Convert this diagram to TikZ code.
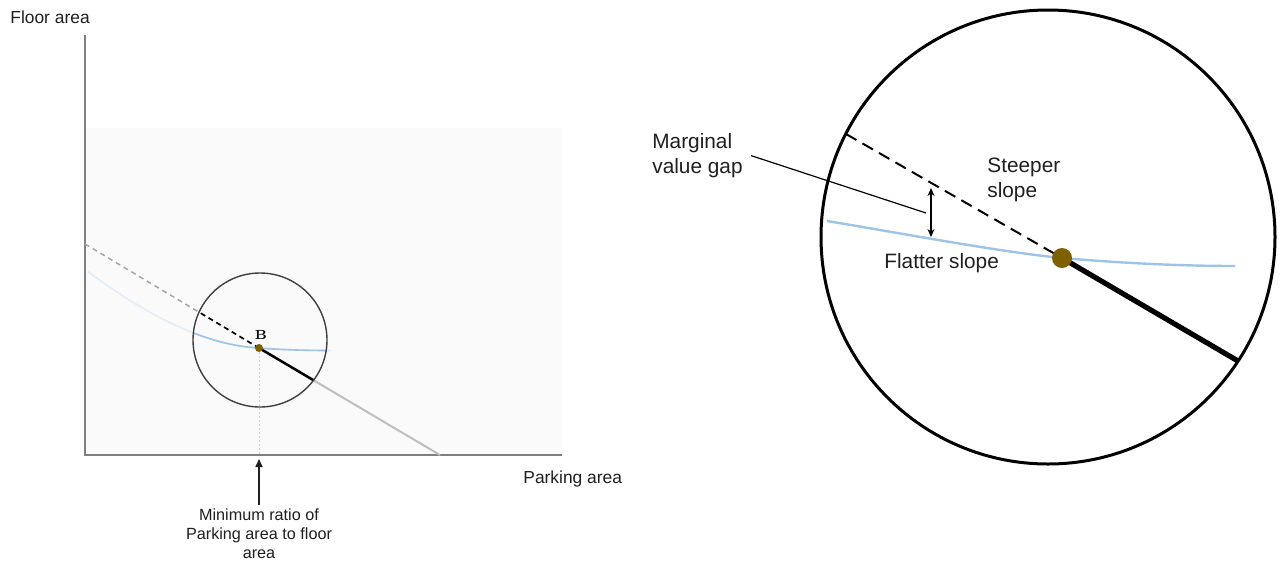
\documentclass[tikz,border=0pt]{standalone}
\usepackage{fontspec}
\setsansfont{Liberation Sans}
\renewcommand{\familydefault}{\sfdefault}
\usetikzlibrary{arrows.meta,positioning,calc}
\definecolor{axisgray}{HTML}{7F7F7F}
\definecolor{panelgray}{HTML}{FAFAFA}
\definecolor{linegray}{HTML}{BFBFBF}
\definecolor{dashgray}{HTML}{A6A6A6}
\definecolor{guidegray}{HTML}{D0D0D0}
\definecolor{ringgray}{HTML}{404040}
\definecolor{curveblue}{HTML}{9DC3E6}
\definecolor{curvefade}{HTML}{E3EDF8}
\definecolor{pointbrown}{HTML}{7F6000}
\definecolor{inkdark}{HTML}{1F1F1F}
\tikzset{
  axisline/.style={draw=axisgray, line width=1pt},
  % small picture (left)
  faintdash/.style={draw=dashgray, line width=0.75pt, dash pattern=on 2.5pt off 2pt},
  faintline/.style={draw=linegray, line width=1pt},
  inkdash/.style={draw=black, line width=0.8pt, dash pattern=on 2.5pt off 2pt},
  inkline/.style={draw=black, line width=1.25pt},
  fadecurve/.style={draw=curvefade, line width=0.8pt},
  bluecurve/.style={draw=curveblue, line width=0.8pt},
  guide/.style={draw=guidegray, line width=0.4pt, dash pattern=on 1pt off 1pt},
  smallring/.style={draw=ringgray, line width=0.7pt},
  pointer/.style={-{Triangle[length=4pt,width=3.5pt]}, line width=0.8pt, color=inkdark},
  axlbl/.style={font=\fontsize{8.7}{10.4}\selectfont, text=inkdark, inner sep=0pt},
  notelbl/.style={font=\fontsize{8.1}{9.6}\selectfont, text=inkdark, inner sep=0pt, align=center},
  % magnified picture (right)
  bigring/.style={draw=black, line width=1.5pt},
  bigdash/.style={draw=black, line width=1pt, dash pattern=on 6pt off 3.5pt},
  bigline/.style={draw=black, line width=2.6pt},
  bigcurve/.style={draw=curveblue, line width=1.2pt},
  gaparrow/.style={{Stealth[length=4pt,width=3.5pt]}-{Stealth[length=4pt,width=3.5pt]}, line width=0.8pt},
  leader/.style={draw=black, line width=0.6pt},
  biglbl/.style={font=\fontsize{10.4}{12.5}\selectfont, text=inkdark, inner ysep=0pt, inner xsep=0pt, align=left},
}
\newcommand{\smallcurve}{(88,271.7) .. controls (140,310) and (200,345) .. (259,348)
  .. controls (285,350) and (310,350.5) .. (331,350.5)}

\begin{document}
\begin{tikzpicture}[x=0.5pt, y=-0.5pt]
  \useasboundingbox (0,0) rectangle (1284,563);

  % ---- left: the plane with the budget line
  \fill[panelgray] (85,128) rectangle (562,455);
  \coordinate (O) at (85,455);
  \coordinate (Ytop) at (85,35);
  \coordinate (Xend) at (562,455);
  \coordinate (B) at (259,348);
  \coordinate (Lstart) at (85,244);
  \coordinate (Lend) at (440,455);
  \coordinate (Zc) at (260,340);
  \draw[axisline] (Ytop) -- (O) -- (Xend);

  \draw[faintdash] (Lstart) -- (B);
  \draw[faintline] (B) -- (Lend);
  \draw[fadecurve] \smallcurve;
  \begin{scope}
    \clip (Zc) circle (33.5pt);
    \draw[inkdash] (Lstart) -- (B);
    \draw[inkline] (B) -- (Lend);
    \draw[bluecurve] \smallcurve;
  \end{scope}
  \draw[smallring] (Zc) circle (33.5pt);
  \draw[guide] (B) -- (B |- O);
  \fill[pointbrown] (B) circle (2pt);
  \node[font=\rmfamily\bfseries\fontsize{6.6}{7}\selectfont, inner sep=0pt] (Blbl) at (261,335) {B};

  \node[axlbl, anchor=base west] (ylbl) at (10,23) {Floor area};
  \node[axlbl, anchor=base west] (xlbl) at (523,483) {Parking area};
  \node[notelbl, anchor=north] (minratio) at (259,508)
      {Minimum ratio of\\ Parking area to floor\\ area};
  \draw[pointer] ($(minratio.north)+(0,-3)$) -- ($(B |- O)+(0,4)$);

  % ---- right: the magnified circle round B
  \coordinate (Rc) at (1048,237);
  \coordinate (P) at (1062,258);
  \coordinate (Dstart) at (846,134);
  \coordinate (Tend) at (1238,361);
  \coordinate (gaptop) at (931,188);
  \coordinate (gapbot) at (931,237);
  \coordinate (gapmid) at (926,213);
  \draw[bigring] (Rc) circle (113.5pt);
  \draw[bigdash] (Dstart) -- (P);
  \draw[bigline] (P) -- (Tend);
  \draw[bigcurve] (827,221) .. controls (900,233) and (1000,252) .. (P)
    .. controls (1120,263) and (1180,266) .. (1235,266);
  \fill[pointbrown] (P) circle (5pt);
  \draw[gaparrow] (gaptop) -- (gapbot);

  \node[biglbl, anchor=north west, inner xsep=4pt] (gaplbl) at (644,133) {Marginal\\ value gap};
  \draw[leader] (gaplbl.east) -- (gapmid);
  \node[biglbl, anchor=north west] (steep) at (987,158) {Steeper\\ slope};
  \node[biglbl, anchor=base west] (flat) at (884,268) {Flatter slope};
\end{tikzpicture}
\end{document}
